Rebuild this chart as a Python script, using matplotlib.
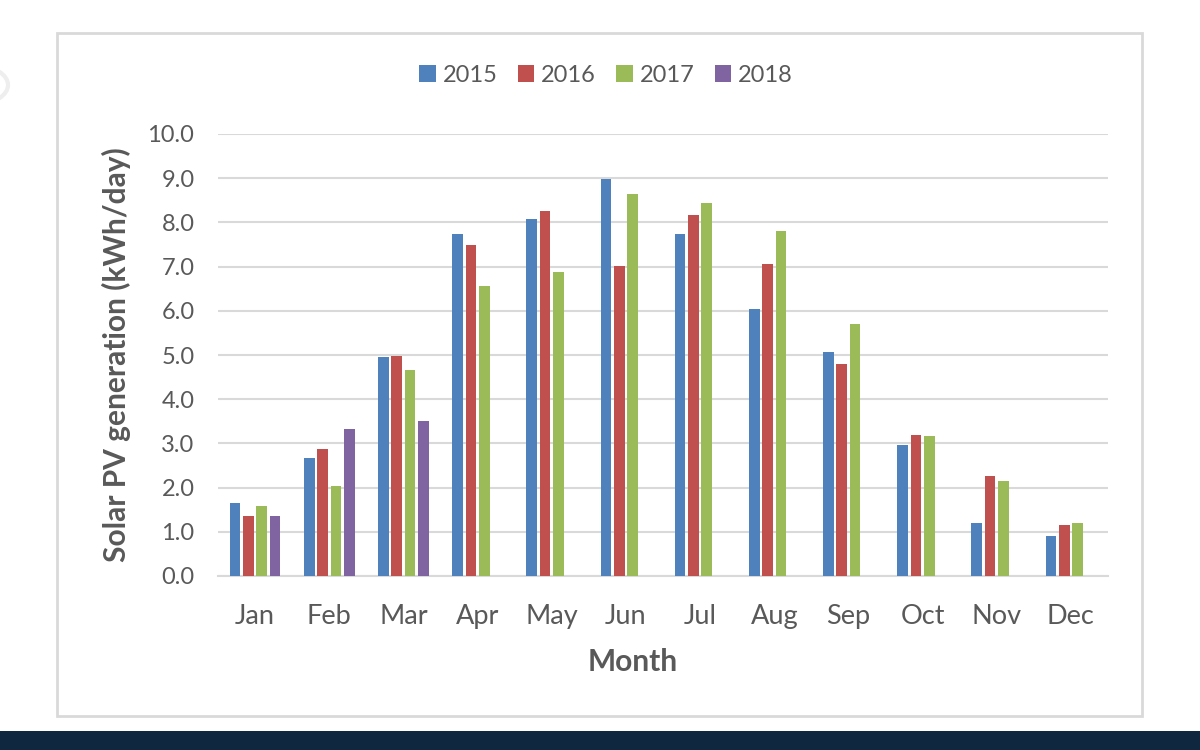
import matplotlib
matplotlib.use("Agg")
import matplotlib.pyplot as plt
import numpy as np
from matplotlib.patches import Rectangle, Circle

months = ["Jan", "Feb", "Mar", "Apr", "May", "Jun", "Jul", "Aug", "Sep", "Oct", "Nov", "Dec"]
years = ["2015", "2016", "2017", "2018"]
v2015 = [1.66, 2.67, 4.95, 7.74, 8.07, 8.98, 7.74, 6.03, 5.07, 2.96, 1.19, 0.90]
v2016 = [1.36, 2.87, 4.98, 7.49, 8.26, 7.02, 8.17, 7.05, 4.80, 3.19, 2.27, 1.16]
v2017 = [1.59, 2.04, 4.66, 6.56, 6.88, 8.65, 8.45, 7.81, 5.70, 3.16, 2.14, 1.19]
v2018 = [1.36, 3.32, 3.51, np.nan, np.nan, np.nan, np.nan, np.nan, np.nan, np.nan, np.nan, np.nan]
series = [v2015, v2016, v2017, v2018]
colors = ["#4F81BD", "#C0504D", "#9BBB59", "#8064A2"]

plt.rcParams['font.family'] = ['Lato', 'DejaVu Sans']
fig = plt.figure(figsize=(12, 7.5), dpi=100)
fig.patch.set_facecolor("white")

# chart frame
fig.patches.append(Rectangle((57/1200, 1-716/750), (1142-57)/1200, (716-33)/750,
                             transform=fig.transFigure, facecolor="white",
                             edgecolor="#D9D9D9", linewidth=2, zorder=-5))
# bottom dark strip
fig.patches.append(Rectangle((0, 0), 1, 19/750, transform=fig.transFigure,
                             facecolor="#0F2840", edgecolor="none", zorder=-5))
# faint circle at left edge
fig.patches.append(Circle((-22/1200, 1-85/750), 0.025, transform=fig.transFigure,
                          facecolor="white", edgecolor="#EEEEEE", linewidth=3, zorder=-5))

ax = fig.add_axes([218/1200, 1-576/750, (1108-218)/1200, (576-134)/750], zorder=2)
ax.set_facecolor("none")
x = np.arange(len(months))
slot = 0.18
width = 0.145
for i, (vals, c, yr) in enumerate(zip(series, colors, years)):
    ax.bar(x + (i - 1.5) * slot, vals, width=width, color=c, label=yr, zorder=3)

ax.set_xlim(-0.5, 11.5)
ax.set_ylim(0, 10)
ax.set_yticks(np.arange(0, 11, 1))
ax.set_yticklabels([f"{v:.1f}" for v in np.arange(0, 11, 1)])
ax.set_xticks(x)
ax.set_xticklabels(months)
ax.grid(axis="y", color="#D9D9D9", linewidth=1.5, zorder=0)
ax.set_axisbelow(True)
for s in ["top", "right", "left"]:
    ax.spines[s].set_visible(False)
ax.spines["bottom"].set_color("#D9D9D9")
ax.spines["bottom"].set_linewidth(1.5)
ax.tick_params(axis="both", length=0, colors="#595959")
ax.tick_params(axis="y", pad=17, labelsize=17)
ax.tick_params(axis="x", pad=20, labelsize=19.5)
ax.set_ylabel("Solar PV generation (kWh/day)", fontsize=21.5, fontweight="bold",
              color="#595959")
ax.yaxis.set_label_coords(-0.098, 0.5)
ax.set_xlabel("Month", fontsize=21.5, fontweight="bold", color="#595959")
ax.xaxis.set_label_coords(0.466, -0.163)

leg = fig.legend(loc="center", bbox_to_anchor=(606/1200, 1-75/750), ncol=4,
                 frameon=False, fontsize=17, handlelength=0.7, handleheight=0.7,
                 handletextpad=0.3, columnspacing=0.85, labelcolor="#595959")

fig.savefig("out.png", dpi=100)
